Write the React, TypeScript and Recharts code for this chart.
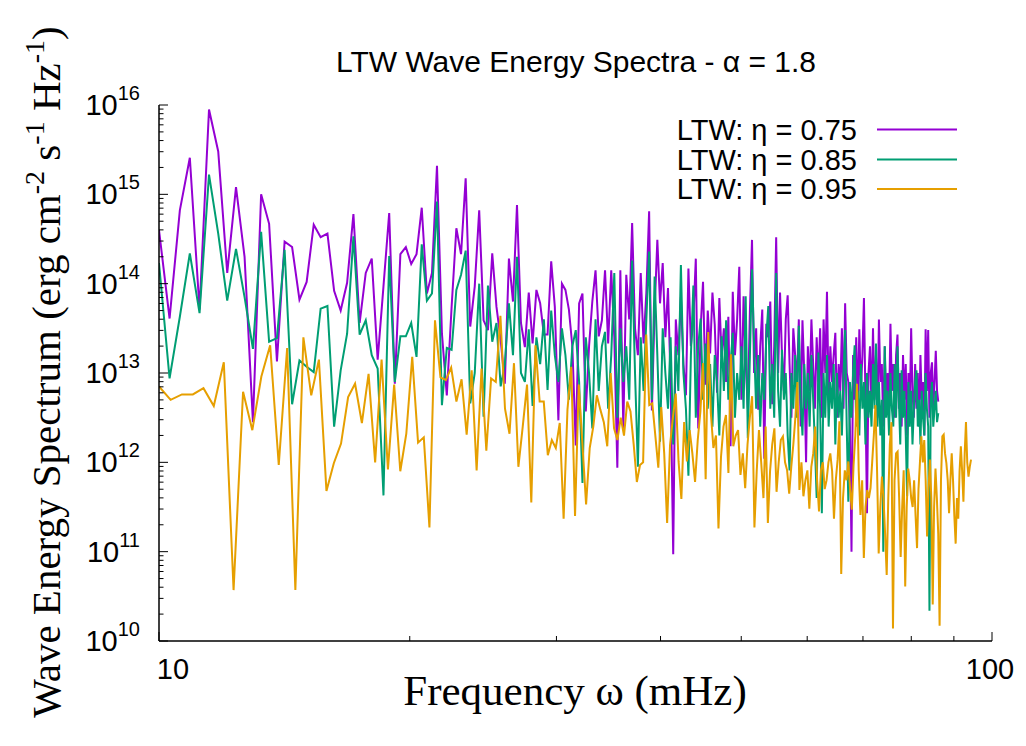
import React from 'react';
import { LineChart, Line, XAxis, YAxis } from 'recharts';

// log10 of the wave energy spectrum (erg cm^-2 s^-1 Hz^-1)
const ETA075_LOG = [
  14.60, 13.61, 14.82, 15.41, 13.71, 15.95, 15.48, 14.12, 15.08, 14.30,
  12.45, 15.00, 14.67, 13.13, 14.47, 14.41, 13.82, 14.02, 14.66, 14.52,
  14.56, 13.92, 13.70, 14.01, 14.78, 13.56, 14.12, 14.28, 13.15, 13.97,
  14.79, 12.88, 14.33, 14.41, 14.22, 14.33, 14.85, 13.89, 14.12, 15.32,
  13.44, 12.75, 13.74, 14.62, 14.33, 15.18, 13.52, 13.97, 14.82, 13.59,
  13.48, 14.34, 13.74, 13.37, 12.88, 14.28, 13.80, 14.88, 13.56, 13.29,
  13.90, 13.33, 13.93, 13.78, 13.43, 13.43, 14.25, 13.74, 12.47, 14.00,
  13.93, 13.71, 13.30, 12.19, 13.78, 13.89, 12.57, 13.30, 13.80, 14.15,
  13.41, 13.59, 14.15, 13.33, 14.15, 13.40, 11.94, 14.15, 12.38, 14.10,
  13.60, 14.68, 13.50, 13.20, 14.12, 13.33, 13.90, 14.81, 12.58, 13.70,
  14.49, 13.78, 14.23, 13.40, 13.95, 12.90, 10.97, 13.60, 13.20, 13.85,
  13.10, 12.75, 14.17, 13.30, 13.60, 14.28, 12.38, 13.50, 14.02, 12.87,
  13.70, 13.22, 13.90, 13.54, 12.78, 13.84, 13.18, 13.50, 12.90, 13.63,
  12.18, 13.91, 13.20, 13.60, 14.19, 12.70, 13.86, 13.10, 12.60, 13.70,
  14.49, 13.00, 13.50, 12.59, 13.30, 13.71, 12.04, 13.55, 13.40, 13.80,
  12.65, 13.30, 14.52, 13.00, 13.90, 13.20, 12.80, 13.60, 13.87, 13.10,
  12.50, 13.50, 13.20, 12.90, 13.60, 12.40, 13.59, 13.00, 12.00, 13.30,
  12.80, 13.60, 13.10, 12.60, 13.40, 12.90, 13.50, 12.50, 13.60, 13.00,
  13.91, 12.70, 13.30, 12.90, 13.20, 13.45, 12.50, 13.10, 12.80, 13.50,
  12.60, 13.78, 13.00, 12.90, 12.40, 11.00, 13.20, 12.70, 13.40, 12.60,
  13.49, 12.80, 13.20, 13.84, 12.70, 11.43, 13.00, 13.30, 12.60, 13.50,
  12.70, 13.20, 12.50, 13.60, 12.90, 13.10, 12.40, 13.30, 12.70, 13.00,
  12.60, 13.55, 12.80, 13.10, 12.50, 13.20, 13.43, 12.60, 13.00, 12.40,
  13.20, 12.70, 13.10, 12.30, 13.00, 12.60, 13.50, 12.80, 12.50, 13.10,
  12.60, 13.00, 12.40, 13.20, 12.70, 12.90, 12.30, 13.49, 12.80, 13.48,
  12.50, 13.00, 13.12, 12.60, 12.90, 13.25, 12.80, 12.68,
];

const ETA085_LOG = [
  14.23, 12.94, 13.63, 14.34, 13.67, 15.22, 14.56, 13.81, 14.39, 13.85,
  13.27, 14.58, 13.35, 13.39, 14.38, 12.65, 13.14, 13.07, 13.01, 13.72,
  13.75, 12.40, 13.03, 13.44, 14.53, 13.43, 13.59, 13.20, 13.05, 11.63,
  14.31, 12.90, 13.41, 13.41, 13.56, 13.18, 14.44, 13.81, 13.89, 14.92,
  12.64, 13.28, 13.26, 13.93, 14.10, 14.37, 12.66, 13.00, 14.00, 12.51,
  13.98, 13.35, 13.56, 12.85, 13.10, 13.78, 13.20, 14.30, 13.00, 12.90,
  13.49, 12.63, 13.40, 13.10, 13.60, 12.81, 13.70, 13.20, 12.90, 13.50,
  13.20, 12.70, 13.30, 13.48, 12.90, 11.77, 13.40, 13.00, 12.38, 13.60,
  12.80, 13.30, 13.46, 12.60, 13.20, 14.12, 12.50, 13.50, 12.90, 13.30,
  12.70, 14.26, 13.00, 11.95, 13.40, 12.80, 13.60, 14.36, 12.70, 14.08,
  13.20, 12.23, 13.50, 13.00, 12.60, 13.40, 12.20, 13.30, 12.80, 14.21,
  13.00, 12.60, 11.85, 13.20, 13.98, 12.50, 13.30, 13.61, 12.70, 13.33,
  12.60, 13.10, 12.40, 13.20, 12.90, 12.30, 13.41, 12.80, 13.59, 12.70,
  13.10, 13.45, 12.50, 13.00, 12.70, 13.30, 12.60, 13.86, 12.27, 13.20,
  14.16, 13.31, 12.60, 13.20, 12.40, 13.00, 12.70, 13.40, 13.75, 12.60,
  13.10, 12.50, 14.12, 12.80, 12.40, 13.26, 12.70, 13.00, 12.30, 11.91,
  13.00, 12.60, 13.20, 12.50, 13.53, 12.70, 12.30, 13.10, 12.60, 13.00,
  12.40, 13.20, 12.70, 12.20, 11.60, 13.23, 12.60, 11.43, 13.00, 12.50,
  13.20, 12.40, 12.90, 12.60, 13.10, 12.20, 13.00, 12.50, 12.80, 12.30,
  13.00, 13.48, 12.40, 11.56, 12.90, 12.50, 13.00, 13.31, 12.40, 12.80,
  12.30, 13.10, 12.60, 12.90, 12.20, 13.00, 12.50, 12.80, 12.40, 13.10,
  12.60, 13.33, 12.40, 12.90, 12.30, 12.70, 11.00, 13.30, 12.50, 12.80,
  12.30, 13.00, 12.60, 12.40, 13.10, 12.50, 13.30, 12.70, 12.20, 13.03,
  12.50, 12.80, 12.30, 11.62, 12.90, 12.40, 12.80, 12.20, 12.60, 12.90,
  13.03, 12.40, 12.70, 12.20, 12.80, 12.50, 12.30, 13.00, 12.60, 12.40,
  10.34, 12.70, 12.90, 12.40, 12.60, 12.80, 12.45, 12.55,
];

const ETA095_LOG = [
  12.85, 12.70, 12.76, 12.76, 12.83, 12.63, 13.12, 10.57, 12.79, 12.36,
  12.96, 13.31, 11.97, 13.28, 10.57, 13.40, 12.75, 13.15, 11.68, 11.99,
  12.21, 12.73, 12.88, 12.44, 12.99, 12.00, 13.15, 11.92, 12.87, 11.90,
  12.32, 13.18, 12.22, 12.28, 11.27, 13.59, 12.95, 12.92, 13.06, 12.68,
  12.93, 12.31, 13.03, 11.91, 13.05, 12.13, 12.94, 12.90, 13.64, 12.60,
  12.32, 13.11, 11.95, 12.40, 12.87, 11.55, 13.31, 12.68, 12.68, 12.08,
  12.25, 12.16, 12.44, 11.37, 12.59, 13.07, 11.40, 12.87, 12.20, 11.53,
  12.16, 12.40, 12.75, 12.59, 12.45, 12.18, 13.00, 12.38, 12.25, 12.50,
  12.30, 12.68, 12.57, 12.20, 11.78, 11.97, 12.00, 13.43, 12.64, 12.66,
  12.30, 11.94, 12.62, 12.10, 11.32, 12.19, 12.50, 12.77, 12.01, 11.59,
  12.45, 12.01, 12.36, 12.10, 11.78, 12.25, 12.57, 13.11, 11.81, 13.46,
  12.55, 12.16, 12.30, 11.26, 12.06, 12.40, 12.53, 11.88, 13.21, 12.18,
  12.30, 12.36, 11.86, 12.10, 11.71, 12.20, 12.50, 12.74, 11.27, 11.90,
  12.36, 12.00, 11.60, 12.40, 11.32, 11.90, 12.20, 12.38, 11.67, 12.00,
  12.25, 12.29, 12.00, 11.91, 11.65, 11.95, 12.20, 12.50, 12.90, 11.69,
  12.00, 11.62, 11.80, 11.91, 11.48, 11.95, 12.10, 12.40, 11.80, 11.45,
  11.91, 12.00, 11.70, 11.80, 12.00, 12.10, 11.90, 11.37, 11.80, 12.03,
  12.46, 10.75, 11.60, 11.91, 11.80, 12.01, 11.70, 11.47, 11.97, 12.30,
  12.88, 11.90, 11.41, 11.80, 10.93, 11.50, 11.69, 11.60, 11.71, 12.00,
  12.30, 12.64, 11.90, 10.98, 11.50, 11.84, 11.60, 11.20, 10.74, 11.60,
  12.20, 12.45, 10.14, 11.80, 12.10, 12.12, 11.60, 10.94, 11.50, 11.91,
  10.61, 11.50, 11.93, 11.80, 11.60, 11.50, 11.80, 11.40, 11.04, 11.70,
  12.00, 12.29, 12.00, 12.25, 11.80, 11.17, 11.70, 12.03, 11.60, 10.41,
  11.50, 11.93, 11.60, 11.20, 10.17, 11.80, 12.29, 12.31, 12.10, 11.99,
  11.80, 11.43, 11.80, 12.10, 11.80, 11.40, 11.09, 11.60, 11.37, 11.90,
  12.18, 11.90, 11.56, 12.10, 12.45, 12.00, 11.84, 11.95, 12.03,
];

// frequency sampling grid (mHz)
const FREQ_START = 10;
const STEP_075_085 = 0.2965;
const STEP_095 = 0.327;

const SERIES_NAMES = ['LTW: \u03b7 = 0.75', 'LTW: \u03b7 = 0.85', 'LTW: \u03b7 = 0.95'];
const SERIES_COLORS = ['#9400D3', '#009E73', '#E69F00'];

const X_TICKS = [10, 20, 30, 40, 50, 60, 70, 80, 90, 100];
const X_MAJOR_LABELS = [10, 100];
const Y_MAJOR_EXPONENTS = [10, 11, 12, 13, 14, 15, 16];
const Y_MINOR_MULTIPLIERS = [2, 3, 4, 5, 6, 7, 8, 9];

const TITLE = 'LTW Wave Energy Spectra - \u03b1 = 1.8';
const X_LABEL = 'Frequency \u03c9 (mHz)';

const Y_TICKS: number[] = [];
Y_MAJOR_EXPONENTS.forEach((e, idx) => {
  Y_TICKS.push(Math.pow(10, e));
  if (idx < Y_MAJOR_EXPONENTS.length - 1) {
    Y_MINOR_MULTIPLIERS.forEach((m) => Y_TICKS.push(m * Math.pow(10, e)));
  }
});

const toSeries = (logs: number[], step: number) =>
  logs.map((e, i) => ({ f: FREQ_START + i * step, v: Math.pow(10, e) }));

const S075 = toSeries(ETA075_LOG, STEP_075_085);
const S085 = toSeries(ETA085_LOG, STEP_075_085);
const S095 = toSeries(ETA095_LOG, STEP_095);

const W = 1010;
const H = 730;
const PLOT = { left: 151, top: 97, right: 984, bottom: 633 };
const SANS = '"Liberation Sans", Arial, sans-serif';
const SERIF = '"Liberation Serif", "Times New Roman", serif';
const TICK_FONT = 29;
const SUP_FONT = 20;
const LEGEND_FONT = 29;

const isMajorY = (v: number) => {
  const e = Math.round(Math.log10(v));
  return Math.abs(v / Math.pow(10, e) - 1) < 1e-6;
};

const BottomTick = (props: any) => {
  const { x, payload } = props;
  const v = payload.value;
  const major = X_MAJOR_LABELS.includes(v);
  return (
    <g>
      <line x1={x} x2={x} y1={PLOT.bottom} y2={PLOT.bottom - (major ? 9 : 5)} stroke="#000" strokeWidth={1} />
      {major && (
        <text x={x + (v === 10 ? 14 : -2)} y={PLOT.bottom + 38} textAnchor="middle" fontSize={TICK_FONT} fontFamily={SANS} fill="#000">
          {String(v)}
        </text>
      )}
    </g>
  );
};

const TopTick = (props: any) => {
  const { x, payload } = props;
  const major = X_MAJOR_LABELS.includes(payload.value);
  return <line x1={x} x2={x} y1={PLOT.top} y2={PLOT.top + (major ? 9 : 5)} stroke="#000" strokeWidth={1} />;
};

const LeftTick = (props: any) => {
  const { y, payload } = props;
  const v = payload.value;
  const major = isMajorY(v);
  const e = Math.round(Math.log10(v));
  return (
    <g>
      <line x1={PLOT.left} x2={PLOT.left + (major ? 9 : 4.5)} y1={y} y2={y} stroke="#000" strokeWidth={1} />
      {major && (
        <text x={PLOT.left - 19} y={y + 10} textAnchor="end" fontSize={TICK_FONT} fontFamily={SANS} fill="#000">
          10
          <tspan dy={-15} fontSize={SUP_FONT}>{String(e)}</tspan>
        </text>
      )}
    </g>
  );
};

const RightTick = (props: any) => {
  const { y, payload } = props;
  const major = isMajorY(payload.value);
  return <line x1={PLOT.right} x2={PLOT.right - (major ? 9 : 4.5)} y1={y} y2={y} stroke="#000" strokeWidth={1} />;
};

const LEGEND_ROWS = [121.5, 151.5, 181];

export default function App() {
  return (
    <div style={{ position: 'relative', width: W, height: H }}>
      <LineChart width={W} height={H} margin={{ top: PLOT.top, right: W - PLOT.right, bottom: 0, left: 0 }}>
        <XAxis
          dataKey="f"
          type="number"
          scale="log"
          domain={[10, 100]}
          allowDataOverflow
          ticks={X_TICKS}
          interval={0}
          height={H - PLOT.bottom}
          tickSize={0}
          tickMargin={0}
          tickLine={false}
          axisLine={{ stroke: '#000', strokeWidth: 1.5 }}
          tick={<BottomTick />}
        />
        <XAxis
          xAxisId="top"
          orientation="top"
          dataKey="f"
          type="number"
          scale="log"
          domain={[10, 100]}
          allowDataOverflow
          ticks={X_TICKS}
          interval={0}
          height={0}
          tickSize={0}
          tickMargin={0}
          tickLine={false}
          axisLine={{ stroke: '#000', strokeWidth: 1.5 }}
          tick={<TopTick />}
        />
        <YAxis
          type="number"
          scale="log"
          domain={[1e10, 1e16]}
          allowDataOverflow
          ticks={Y_TICKS}
          interval={0}
          width={PLOT.left}
          tickSize={0}
          tickMargin={0}
          tickLine={false}
          axisLine={{ stroke: '#000', strokeWidth: 1.5 }}
          tick={<LeftTick />}
        />
        <YAxis
          yAxisId="right"
          orientation="right"
          type="number"
          scale="log"
          domain={[1e10, 1e16]}
          allowDataOverflow
          ticks={Y_TICKS}
          interval={0}
          width={0}
          tickSize={0}
          tickMargin={0}
          tickLine={false}
          axisLine={{ stroke: '#000', strokeWidth: 1.5 }}
          tick={<RightTick />}
        />
        <Line data={S075} dataKey="v" name={SERIES_NAMES[0]} stroke={SERIES_COLORS[0]} strokeWidth={2} dot={false} isAnimationActive={false} />
        <Line data={S085} dataKey="v" name={SERIES_NAMES[1]} stroke={SERIES_COLORS[1]} strokeWidth={2} dot={false} isAnimationActive={false} />
        <Line data={S095} dataKey="v" name={SERIES_NAMES[2]} stroke={SERIES_COLORS[2]} strokeWidth={2} dot={false} isAnimationActive={false} />
      </LineChart>
      <svg width={W} height={H} style={{ position: 'absolute', left: 0, top: 0, pointerEvents: 'none' }}>
        <text x={568} y={64} textAnchor="middle" fontSize={30} fontFamily={SANS} fill="#000">{TITLE}</text>
        {SERIES_NAMES.map((name, i) => (
          <g key={name}>
            <text x={849} y={LEGEND_ROWS[i] + 10} textAnchor="end" fontSize={LEGEND_FONT} fontFamily={SANS} fill="#000">{name}</text>
            <line x1={869} x2={949} y1={LEGEND_ROWS[i]} y2={LEGEND_ROWS[i]} stroke={SERIES_COLORS[i]} strokeWidth={2} />
          </g>
        ))}
        <text x={567} y={697} textAnchor="middle" fontSize={43} fontFamily={SERIF} fill="#000">{X_LABEL}</text>
        <text transform="translate(52,364) rotate(-90)" textAnchor="middle" fontSize={41} fontFamily={SERIF} fill="#000">
          {'Wave Energy Spectrum (erg cm'}
          <tspan dy={-16} fontSize={28}>{'-2'}</tspan>
          <tspan dy={16}>{' s'}</tspan>
          <tspan dy={-16} fontSize={28}>{'-1'}</tspan>
          <tspan dy={16}>{' Hz'}</tspan>
          <tspan dy={-16} fontSize={28}>{'-1'}</tspan>
          <tspan dy={16}>{')'}</tspan>
        </text>
      </svg>
    </div>
  );
}
